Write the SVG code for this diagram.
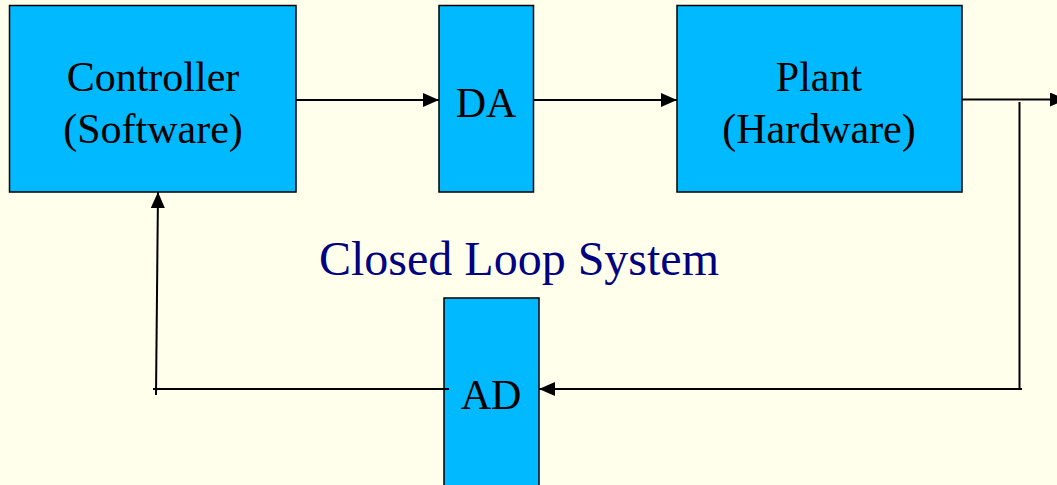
<svg xmlns="http://www.w3.org/2000/svg" width="1057" height="485" viewBox="0 0 1057 485">
<style>
.box{fill:#00B9FF;stroke:#000;stroke-width:1.5}
.t{font-family:"Liberation Serif","Times New Roman",serif;font-size:42px;fill:#000;text-anchor:middle}
.ln{stroke:#000;stroke-width:2;fill:none}
</style>
<defs>
<marker id="ah" viewBox="0 0 16 14" markerWidth="16" markerHeight="14" refX="16" refY="7" orient="auto" markerUnits="userSpaceOnUse">
<path d="M0,0 L16,7 L0,14 Z" fill="#000"/>
</marker>
</defs>
<rect width="1057" height="485" fill="#FFFFEB"/>
<g id="controller">
<rect class="box" x="9.5" y="5.5" width="286.5" height="186.5"/>
<text class="t" x="153" y="91">Controller</text>
<text class="t" x="153" y="143">(Software)</text>
</g>
<g id="da">
<rect class="box" x="439" y="5.5" width="94.5" height="186.5"/>
<text class="t" x="486" y="117">DA</text>
</g>
<g id="plant">
<rect class="box" x="677" y="5.5" width="285" height="186.5"/>
<text class="t" x="819" y="91">Plant</text>
<text class="t" x="819" y="143">(Hardware)</text>
</g>
<g id="ad">
<rect class="box" x="444" y="298" width="95" height="190"/>
<text class="t" x="491" y="409">AD</text>
</g>
<text x="519" y="275" font-family="Liberation Serif,'Times New Roman',serif" font-size="48" fill="#000080" text-anchor="middle">Closed Loop System</text>
<g id="connectors">
<line class="ln" x1="296" y1="100" x2="439" y2="100" marker-end="url(#ah)"/>
<line class="ln" x1="534" y1="100" x2="677" y2="100" marker-end="url(#ah)"/>
<line class="ln" x1="962" y1="99.5" x2="1066" y2="99.5" marker-end="url(#ah)"/>
<line class="ln" x1="1019.5" y1="102" x2="1019.5" y2="389"/>
<line class="ln" x1="1022" y1="389" x2="539" y2="389" marker-end="url(#ah)"/>
<line class="ln" x1="449" y1="389" x2="153" y2="389"/>
<line class="ln" x1="156" y1="395" x2="158" y2="192" marker-end="url(#ah)"/>
</g>
</svg>
